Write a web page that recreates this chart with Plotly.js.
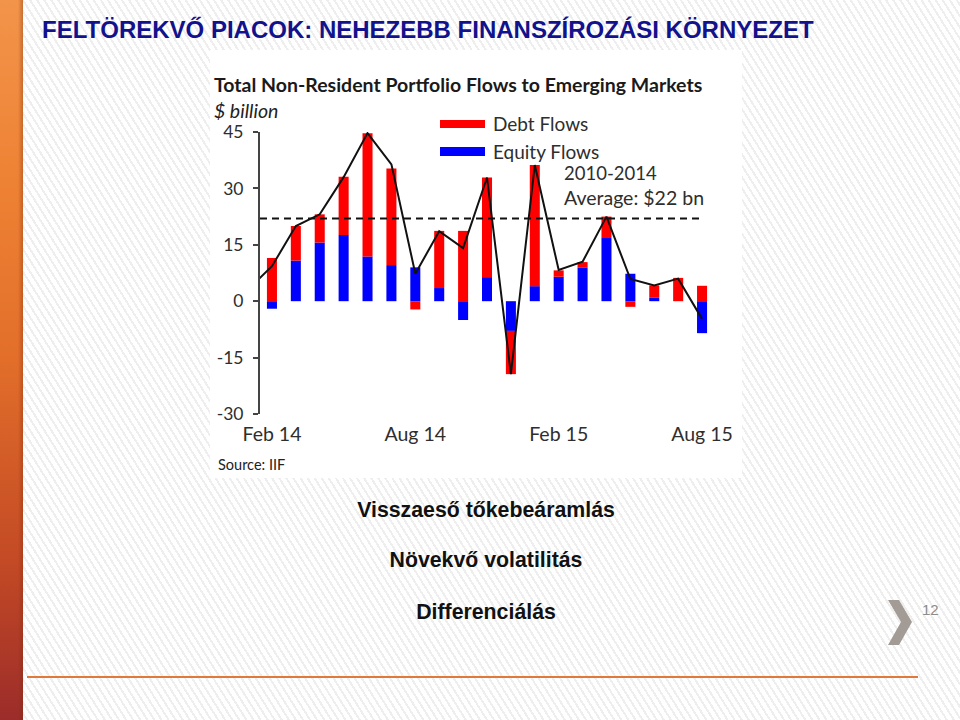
<!DOCTYPE html>
<html>
<head>
<meta charset="utf-8">
<script src="https://cdn.plot.ly/plotly-3.0.1.min.js"></script>
<style>
  html, body { margin: 0; padding: 0; }
  body {
    width: 960px; height: 720px; position: relative; overflow: hidden;
    background: #ffffff repeating-linear-gradient(58deg, #ffffff 0px, #ffffff 4px, #eeeeee 4px, #eeeeee 6px);
    font-family: "Liberation Sans", Arial, sans-serif;
  }
  #leftbar {
    position: absolute; left: 0; top: 0; width: 23px; height: 720px;
    background: linear-gradient(to bottom, #f2944a 0%, #ee8234 25%, #e26e2a 50%, #c34a25 78%, #9c2c2a 100%);
  }
  #leftbar::after {
    content: ""; position: absolute; right: 0; top: 0; width: 5px; height: 100%;
    background: linear-gradient(to right, rgba(120,40,10,0.0), rgba(120,40,10,0.35));
  }
  #title {
    position: absolute; left: 42px; top: 16px; white-space: nowrap; line-height: normal;
    font-weight: bold; font-size: 24px; color: #12128c;
  }
  #chartbg { position: absolute; left: 210px; top: 50px; width: 532px; height: 428px; background: #ffffff; }
  #plot { position: absolute; left: 0; top: 0; width: 960px; height: 720px; }
  .bullet {
    position: absolute; left: 0; width: 972px; text-align: center;
    font-weight: bold; font-size: 21.3px; color: #111;
  }
  #pagenum { position: absolute; left: 922px; top: 601px; font-size: 15px; color: #8c8c8c; }
  #footline { position: absolute; left: 27px; top: 676px; width: 891px; height: 2px; background: #e07a3a; }
  #chev { position: absolute; left: 0; top: 0; }
</style>
</head>
<body>
<div id="leftbar"></div>
<div id="title">FELTÖREKVŐ PIACOK: NEHEZEBB FINANSZÍROZÁSI KÖRNYEZET</div>
<div id="chartbg"></div>
<div id="plot"></div>
<div class="bullet" style="top:498px;">Visszaeső tőkebeáramlás</div>
<div class="bullet" style="top:548px;">Növekvő volatilitás</div>
<div class="bullet" style="top:600px;">Differenciálás</div>
<svg id="chev" width="960" height="720"><polygon points="888,600 899,600 912,622 899,645 888,645 901,622" fill="#a39b95"/></svg>
<div id="pagenum">12</div>
<div id="footline"></div>
<script>
// ---- data (US$ billion) ----
const months = ["Feb 14","Mar 14","Apr 14","May 14","Jun 14","Jul 14","Aug 14","Sep 14","Oct 14","Nov 14","Dec 14","Jan 15",
                "Feb 15","Mar 15","Apr 15","May 15","Jun 15","Jul 15","Aug 15"];
const equityFlows = [-2.0, 10.8, 15.6, 17.6, 11.9, 9.6, 9.0, 3.5, -5.0, 6.4, -7.9, 4.0, 6.5, 9.0, 16.8, 7.3, 0.9, 0.0, -8.5];
const debtFlows   = [11.5, 9.2, 7.5, 15.5, 32.8, 25.7, -2.2, 15.2, 18.7, 26.5, -11.5, 32.2, 1.7, 1.4, 5.7, -1.5, 3.3, 6.2, 4.1];
const totalMonths = ["Jan 14"].concat(months);
const totalFlows  = [3.1, 9.3, 20.0, 23.1, 33.0, 44.7, 36.4, 7.3, 18.6, 14.1, 32.9, -19.4, 36.2, 8.3, 10.5, 22.5, 5.9, 4.2, 6.0, -4.7];
const average2010_2014 = 22;
const tickLabels = ["Feb 14","Aug 14","Feb 15","Aug 15"];
const yTicks = [45, 30, 15, 0, -15, -30];

// positions on a month-index axis
const xIdx = months.map((m, i) => i);
const totalIdx = totalMonths.map(m => months.indexOf(m) >= 0 ? months.indexOf(m) : -1);
const tickIdx = tickLabels.map(t => months.indexOf(t));
const halfYearBounds = [tickIdx[1] - 0.5, tickIdx[2] - 0.5];

// page-pixel -> paper helpers (plot area: x 260..714, y 132..414)
const PL = 260, PR = 714, PT = 132, PB = 414;
const fx = x => (x - PL) / (PR - PL);
const fy = y => (PB - y) / (PB - PT);

const F = "Lato, 'Open Sans', sans-serif";
const txt = "#2e2e2e";

const traces = [
  { type: "bar", name: "Equity Flows", x: xIdx, y: equityFlows, marker: { color: "#0000ff" }, hoverinfo: "y" },
  { type: "bar", name: "Debt Flows", x: xIdx, y: debtFlows, marker: { color: "#ff0000" }, hoverinfo: "y" },
  { type: "scatter", mode: "lines", name: "Total", x: totalIdx, y: totalFlows,
    line: { color: "#111", width: 2 } },
  { type: "scatter", mode: "lines", name: "Average", x: [-0.5, xIdx[xIdx.length - 1]],
    y: [average2010_2014, average2010_2014], line: { color: "#111", width: 2, dash: "7px,5px" } }
];

const layout = {
  width: 960, height: 720,
  margin: { l: PL, r: 960 - PR, t: PT, b: 720 - PB, pad: 0 },
  paper_bgcolor: "rgba(0,0,0,0)", plot_bgcolor: "rgba(0,0,0,0)",
  barmode: "relative", bargap: 0.58,
  showlegend: false,
  font: { family: F, color: txt },
  xaxis: {
    range: [-0.5, 18.5], showline: false, showgrid: false, zeroline: false,
    tickmode: "array", tickvals: tickIdx, ticktext: tickLabels, ticks: "",
    tickfont: { family: F, size: 19.5, color: txt }, ticklabelstandoff: 6, fixedrange: true
  },
  xaxis2: {
    overlaying: "x", anchor: "free", position: 0.4, range: [-0.5, 18.5],
    showline: true, linecolor: "#000", linewidth: 2, showgrid: false, zeroline: false,
    tickmode: "array", tickvals: halfYearBounds, ticks: "outside", ticklen: 4, tickwidth: 1.5,
    tickcolor: "#333", showticklabels: false, side: "bottom"
  },
  yaxis: {
    range: [-30, 45], showgrid: false, zeroline: false, showline: true,
    linecolor: "#444", linewidth: 2, ticks: "outside", ticklen: 5, tickwidth: 2, tickcolor: "#444",
    tickmode: "array", tickvals: yTicks, ticktext: yTicks.map(String),
    tickfont: { family: F, size: 17.5, color: txt }, ticklabelstandoff: 6, fixedrange: true
  },
  shapes: [
    { type: "rect", xref: "paper", yref: "paper", x0: fx(440), x1: fx(485), y0: fy(128), y1: fy(120),
      fillcolor: "#ff0000", line: { width: 0 } },
    { type: "rect", xref: "paper", yref: "paper", x0: fx(440), x1: fx(485), y0: fy(156), y1: fy(147),
      fillcolor: "#0000ff", line: { width: 0 } }
  ],
  annotations: [
    { text: "<b>Total Non-Resident Portfolio Flows to Emerging Markets</b>", xref: "paper", yref: "paper",
      x: fx(212), y: fy(85), xanchor: "left", yanchor: "middle", showarrow: false,
      font: { family: F, size: 19.5, color: "#1a1a1a" } },
    { text: "<i>$ billion</i>", xref: "paper", yref: "paper", x: fx(212), y: fy(110),
      xanchor: "left", yanchor: "middle", showarrow: false, font: { family: F, size: 19.5, color: "#222" } },
    { text: "Debt Flows", xref: "paper", yref: "paper", x: fx(491), y: fy(124),
      xanchor: "left", yanchor: "middle", showarrow: false, font: { family: F, size: 19, color: txt } },
    { text: "Equity Flows", xref: "paper", yref: "paper", x: fx(491), y: fy(151),
      xanchor: "left", yanchor: "middle", showarrow: false, font: { family: F, size: 19, color: txt } },
    { text: "2010-2014", xref: "paper", yref: "paper", x: fx(562), y: fy(173),
      xanchor: "left", yanchor: "middle", showarrow: false, font: { family: F, size: 18.5, color: txt } },
    { text: "Average: $22 bn", xref: "paper", yref: "paper", x: fx(562), y: fy(197),
      xanchor: "left", yanchor: "middle", showarrow: false, font: { family: F, size: 19.5, color: txt } },
    { text: "Source: IIF", xref: "paper", yref: "paper", x: fx(216), y: fy(464),
      xanchor: "left", yanchor: "middle", showarrow: false, font: { family: F, size: 14.5, color: "#222" } }
  ]
};

Plotly.newPlot("plot", traces, layout, { staticPlot: true, displayModeBar: false });
</script>
</body>
</html>
